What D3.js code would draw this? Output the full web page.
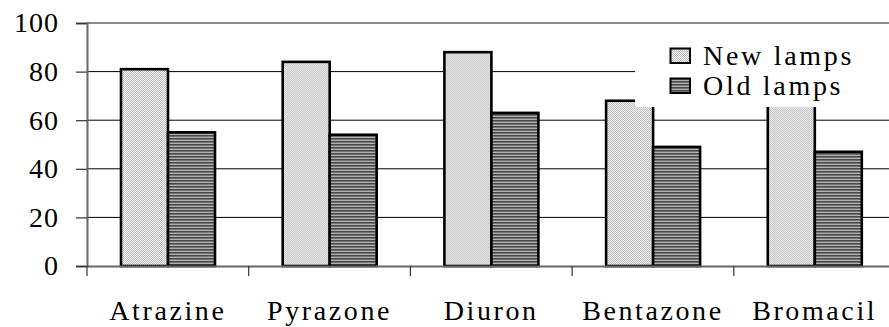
<!DOCTYPE html>
<html>
<head>
<meta charset="utf-8">
<script src="https://cdn.jsdelivr.net/npm/d3@7"></script>
<style>
  html, body { margin: 0; padding: 0; background: #fff; }
  svg { display: block; }
  svg text { font-family: 'Times New Roman', Times, Tinos, 'Liberation Serif', 'Noto Serif', 'DejaVu Serif', FreeSerif, serif !important; }
</style>
</head>
<body>
<svg id="chart" width="889" height="327"></svg>
<script>
// Herbicide removal with new vs. old lamps
const categories = ["Atrazine", "Pyrazone", "Diuron", "Bentazone", "Bromacil"];
const seriesNames = ["New lamps", "Old lamps"];
const newLamps = [81, 84, 88, 68, 70];
const oldLamps = [55, 54, 63, 49, 47];
const yTicks = [0, 20, 40, 60, 80, 100];

const svg = d3.select("#chart");
const defs = svg.append("defs");

// fine checker fill for "New lamps"
const pNew = defs.append("pattern").attr("id", "pNew")
  .attr("patternUnits", "userSpaceOnUse").attr("width", 2).attr("height", 2);
pNew.append("rect").attr("width", 2).attr("height", 2).attr("fill", "#f2f2f2");
pNew.append("rect").attr("width", 1).attr("height", 1).attr("fill", "#bdbdbd");
pNew.append("rect").attr("x", 1).attr("y", 1).attr("width", 1).attr("height", 1).attr("fill", "#bdbdbd");

// horizontal stripe fill for "Old lamps"
const pOld = defs.append("pattern").attr("id", "pOld")
  .attr("patternUnits", "userSpaceOnUse").attr("width", 4).attr("height", 3);
pOld.append("rect").attr("width", 4).attr("height", 3).attr("fill", "#b0b0b0");
pOld.append("rect").attr("width", 4).attr("height", 1.6).attr("fill", "#4a4a4a");

const fills = ["url(#pNew)", "url(#pOld)"];

const left = 87, bandW = 161.7;
const x = d3.scaleBand().domain(categories).range([left, left + bandW * categories.length]).padding(0);
const xs = d3.scaleBand().domain(seriesNames).range([34, 128]).padding(0);
const y = d3.scaleLinear().domain([0, 100]).range([266, 23]);

// gridlines
svg.append("g").selectAll("line").data(yTicks.filter(t => t > 0)).join("line")
  .attr("x1", left).attr("x2", 889)
  .attr("y1", d => y(d)).attr("y2", d => y(d))
  .attr("stroke", d => d === 100 ? "#8a8a8a" : "#000")
  .attr("stroke-width", d => d === 100 ? 2 : 1);

// y axis
const yAxis = svg.append("g").attr("transform", `translate(${left},0)`)
  .call(d3.axisLeft(y).tickValues(yTicks).tickSize(11).tickPadding(17).tickFormat(d3.format("d")));
yAxis.select(".domain").attr("stroke", "#666").attr("stroke-width", 2);
yAxis.selectAll(".tick line").attr("stroke", "#333").attr("stroke-width", 1.2);
yAxis.selectAll(".tick text").attr("font-size", 28).attr("fill", "#000")
  .style("letter-spacing", "1px").attr("dy", "0.32em");

// bars
const data = categories.map((c, i) => ({ cat: c, vals: [newLamps[i], oldLamps[i]] }));
const groups = svg.append("g").selectAll("g").data(data).join("g")
  .attr("transform", d => `translate(${x(d.cat)},0)`);
groups.selectAll("rect").data(d => d.vals.map((v, j) => ({ s: seriesNames[j], v, j }))).join("rect")
  .attr("x", d => xs(d.s))
  .attr("width", xs.bandwidth())
  .attr("y", d => y(d.v))
  .attr("height", d => y(0) - y(d.v))
  .attr("fill", d => fills[d.j])
  .attr("stroke", "#000").attr("stroke-width", 2.6);

// x axis
const xAxis = svg.append("g").attr("transform", `translate(0,${y(0)})`)
  .call(d3.axisBottom(x).tickSize(0).tickPadding(34));
xAxis.select(".domain").attr("stroke", "#666").attr("stroke-width", 2);
xAxis.selectAll(".tick text").attr("font-size", 28).attr("fill", "#000")
  .style("letter-spacing", "2.6px").attr("dy", "0.71em");
// category separator ticks
svg.append("g").selectAll("line").data(d3.range(categories.length + 1)).join("line")
  .attr("x1", i => left + i * bandW).attr("x2", i => left + i * bandW)
  .attr("y1", y(0)).attr("y2", y(0) + 10)
  .attr("stroke", "#333").attr("stroke-width", 1.2);

// legend
const lg = svg.append("g");
lg.append("rect").attr("x", 635).attr("y", 33).attr("width", 260).attr("height", 74).attr("fill", "#fff");
seriesNames.forEach((name, i) => {
  const yy = 48.5 + i * 30;
  lg.append("rect").attr("x", 670.5).attr("y", yy).attr("width", 19.5).attr("height", 14.5)
    .attr("fill", fills[i]).attr("stroke", "#000").attr("stroke-width", 2);
  lg.append("text").attr("x", 703).attr("y", yy + 16).text(name)
    .attr("font-size", 28).style("letter-spacing", "2.7px").attr("fill", "#000");
});
</script>
</body>
</html>
